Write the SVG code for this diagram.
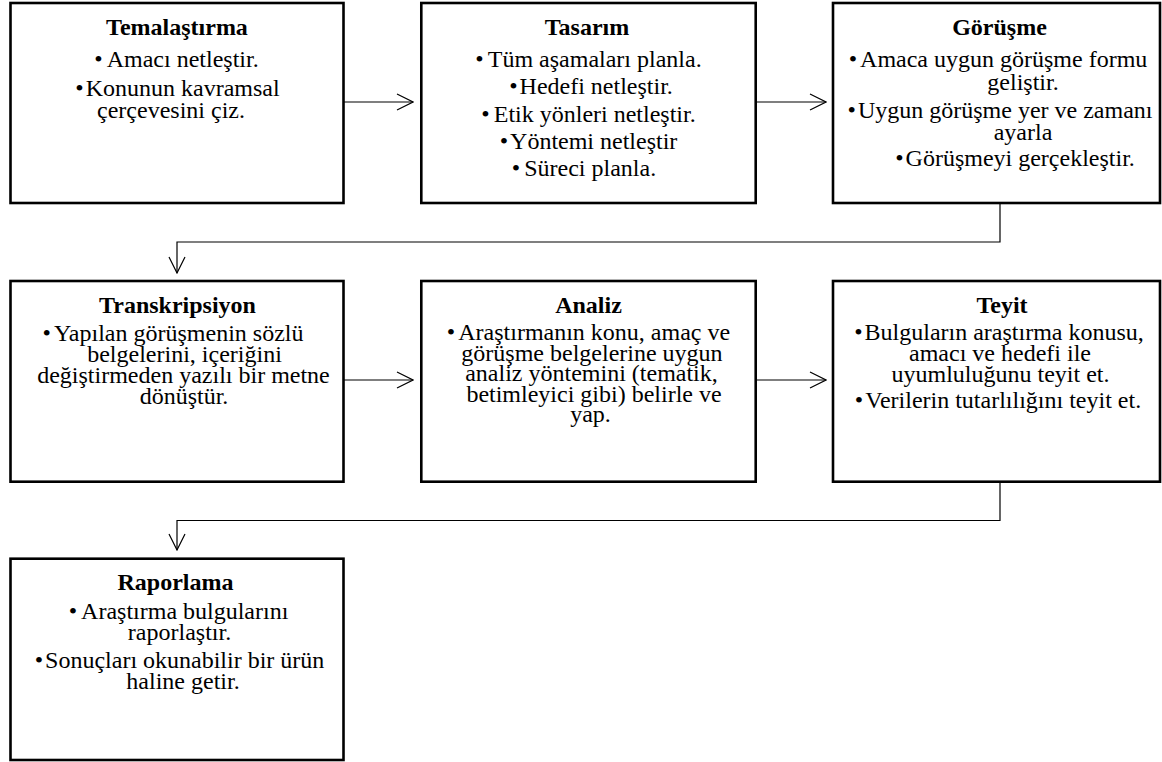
<svg xmlns="http://www.w3.org/2000/svg" width="1162" height="762" viewBox="0 0 1162 762">
<style>
.box{fill:#fff;stroke:#000;stroke-width:2.6}
.t{font-family:"Liberation Serif","Times New Roman",serif;font-size:24px;font-weight:bold;text-anchor:middle;fill:#000}
.b{font-family:"Liberation Serif","Times New Roman",serif;font-size:24px;text-anchor:middle;fill:#000}
.c{fill:none;stroke:#000;stroke-width:1.2}
</style>
<defs>
<marker id="ah" viewBox="0 0 18 18" refX="17" refY="9" markerWidth="18" markerHeight="18" orient="auto" markerUnits="userSpaceOnUse">
<path d="M1,1 L17,9 L1,17" fill="none" stroke="#000" stroke-width="1.2"/>
</marker>
</defs>
<rect width="1162" height="762" fill="#fff"/>
<g id="connectors">
<path class="c" d="M344,102 H413" marker-end="url(#ah)"/>
<path class="c" d="M756,102 H826" marker-end="url(#ah)"/>
<path class="c" d="M1000,203 V242 H177 V273" marker-end="url(#ah)"/>
<path class="c" d="M344,380 H413" marker-end="url(#ah)"/>
<path class="c" d="M756,380 H826" marker-end="url(#ah)"/>
<path class="c" d="M1000,482 V520.5 H177 V550" marker-end="url(#ah)"/>
</g>
<g id="temalastirma">
<rect class="box" x="10.5" y="3" width="333" height="200"/>
<text class="t" x="177" y="35">Temalaştırma</text>
<text class="b" x="176.5" y="67">•<tspan dx="4">Amacı netleştir.</tspan></text>
<text class="b" x="177.5" y="96">•<tspan dx="2">Konunun kavramsal</tspan></text>
<text class="b" x="171" y="117.5">çerçevesini çiz.</text>
</g>
<g id="tasarim">
<rect class="box" x="421.3" y="3" width="334.4" height="200"/>
<text class="t" x="587" y="35">Tasarım</text>
<text class="b" x="588.5" y="67">•<tspan dx="4">Tüm aşamaları planla.</tspan></text>
<text class="b" x="591" y="94">•<tspan dx="2">Hedefi netleştir.</tspan></text>
<text class="b" x="588.5" y="122">•<tspan dx="4">Etik yönleri netleştir.</tspan></text>
<text class="b" x="588.5" y="149">•<tspan dx="2">Yöntemi netleştir</tspan></text>
<text class="b" x="584" y="176">•<tspan dx="4">Süreci planla.</tspan></text>
</g>
<g id="gorusme">
<rect class="box" x="833" y="3" width="327" height="200"/>
<text class="t" x="999.5" y="35">Görüşme</text>
<text class="b" x="998" y="67">•<tspan dx="3">Amaca uygun görüşme formu</tspan></text>
<text class="b" x="1023" y="90">geliştir.</text>
<text class="b" x="1000" y="118">•<tspan dx="2">Uygun görüşme yer ve zamanı</tspan></text>
<text class="b" x="1023" y="140">ayarla</text>
<text class="b" x="1015" y="166">•<tspan dx="2">Görüşmeyi gerçekleştir.</tspan></text>
</g>
<g id="transkripsiyon">
<rect class="box" x="10.5" y="281" width="333" height="200.7"/>
<text class="t" x="177.5" y="313">Transkripsiyon</text>
<text class="b" x="173" y="341">•<tspan dx="3">Yapılan görüşmenin sözlü</tspan></text>
<text class="b" x="184.5" y="362">belgelerini, içeriğini</text>
<text class="b" x="183.5" y="383">değiştirmeden yazılı bir metne</text>
<text class="b" x="184" y="403.5">dönüştür.</text>
</g>
<g id="analiz">
<rect class="box" x="421.3" y="281" width="334.4" height="200.7"/>
<text class="t" x="588.5" y="313">Analiz</text>
<text class="b" x="588.5" y="340">•<tspan dx="3">Araştırmanın konu, amaç ve</tspan></text>
<text class="b" x="592" y="360.5">görüşme belgelerine uygun</text>
<text class="b" x="591.5" y="381">analiz yöntemini (tematik,</text>
<text class="b" x="594" y="401.5">betimleyici gibi) belirle ve</text>
<text class="b" x="590.5" y="422">yap.</text>
</g>
<g id="teyit">
<rect class="box" x="833" y="281" width="327" height="200.7"/>
<text class="t" x="1002" y="313">Teyit</text>
<text class="b" x="999" y="340">•<tspan dx="2">Bulguların araştırma konusu,</tspan></text>
<text class="b" x="1000" y="361">amacı ve hedefi ile</text>
<text class="b" x="1000.5" y="382">uyumluluğunu teyit et.</text>
<text class="b" x="998" y="408">•<tspan dx="2">Verilerin tutarlılığını teyit et.</tspan></text>
</g>
<g id="raporlama">
<rect class="box" x="10.5" y="558.7" width="333" height="201.3"/>
<text class="t" x="175.5" y="590">Raporlama</text>
<text class="b" x="178.5" y="619">•<tspan dx="4">Araştırma bulgularını</tspan></text>
<text class="b" x="179.5" y="640">raporlaştır.</text>
<text class="b" x="179.5" y="668">•<tspan dx="2">Sonuçları okunabilir bir ürün</tspan></text>
<text class="b" x="183" y="689">haline getir.</text>
</g>
</svg>
